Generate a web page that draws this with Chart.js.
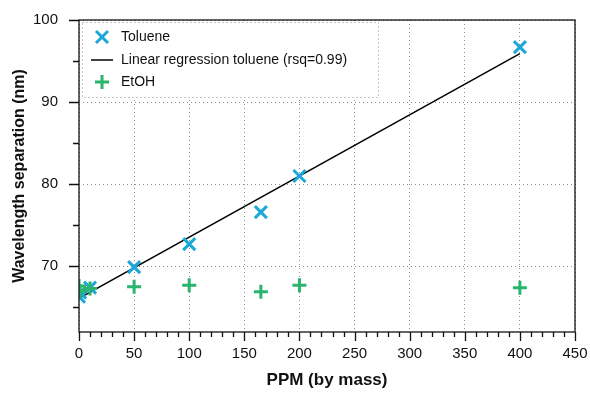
<!DOCTYPE html>
<html>
<head>
<meta charset="utf-8">
<script src="https://cdn.jsdelivr.net/npm/chart.js@4.4.1/dist/chart.umd.min.js"></script>
<style>
  html, body { margin: 0; padding: 0; background: #fff; }
  #wrap { width: 590px; height: 393px; }
</style>
</head>
<body>
<div id="wrap"><canvas id="sepChart" width="590" height="393"></canvas></div>
<script>
// data
const toluenePpm = [0, 1, 10, 50, 100, 165, 200, 400];
const tolueneNm = [66.3, 66.8, 67.4, 69.9, 72.7, 76.6, 81.0, 96.7];
const etohPpm = [0, 1, 10, 50, 100, 165, 200, 400];
const etohNm = [67.6, 67.0, 67.3, 67.5, 67.7, 66.9, 67.7, 67.4];
const fitPpm = [0, 400];
const fitNm = [66.1, 95.9];
const legendLabels = ["Toluene", "Linear regression toluene (rsq=0.99)", "EtOH"];

const FONT = "'Liberation Sans', Arial, Helvetica, sans-serif";
const BLUE = "#1ba8d6";
const GREEN = "#2ab46c";
const GRID = "#8c8c8c";

const toPoints = (xs, ys) => xs.map((x, i) => ({ x: x, y: ys[i] }));

// ticks outside the frame, major + minor, and the frame box
const frameTicks = {
  id: "frameTicks",
  afterDraw(chart) {
    const ctx = chart.ctx;
    const a = chart.chartArea;
    const xs = chart.scales.x;
    const ys = chart.scales.y;
    ctx.save();
    ctx.strokeStyle = "#111";
    ctx.lineWidth = 1.3;
    ctx.beginPath();
    xs.ticks.forEach((t) => {
      const px = Math.round(xs.getPixelForValue(t.value)) + 0.5;
      const len = t.value % 50 === 0 ? 9 : 5;
      ctx.moveTo(px, a.bottom);
      ctx.lineTo(px, a.bottom + len);
    });
    ys.ticks.forEach((t) => {
      if (t.value % 5 !== 0) return;
      const py = Math.round(ys.getPixelForValue(t.value)) + 0.5;
      const len = t.value % 10 === 0 ? 10 : 6;
      ctx.moveTo(a.left, py);
      ctx.lineTo(a.left - len, py);
    });
    ctx.stroke();
    ctx.strokeRect(a.left, a.top, a.right - a.left, a.bottom - a.top);
    ctx.restore();
  },
};

// legend box in the top-left corner of the plot
const cornerLegend = {
  id: "cornerLegend",
  afterDatasetsDraw(chart) {
    const ctx = chart.ctx;
    const a = chart.chartArea;
    const bx = a.left + 3, by = a.top + 2, bw = 296, bh = 75;
    ctx.save();
    ctx.fillStyle = "#fff";
    ctx.fillRect(bx, by, bw, bh);
    ctx.strokeStyle = GRID;
    ctx.lineWidth = 1;
    ctx.setLineDash([1, 3]);
    ctx.strokeRect(bx + 0.5, by + 0.5, bw, bh);
    ctx.setLineDash([]);

    const mx = a.left + 23;
    const rows = [a.top + 17, a.top + 40, a.top + 62];
    ctx.lineWidth = 3;
    // toluene x
    ctx.strokeStyle = BLUE;
    ctx.beginPath();
    ctx.moveTo(mx - 6, rows[0] - 6); ctx.lineTo(mx + 6, rows[0] + 6);
    ctx.moveTo(mx + 6, rows[0] - 6); ctx.lineTo(mx - 6, rows[0] + 6);
    ctx.stroke();
    // regression line
    ctx.strokeStyle = "#000";
    ctx.lineWidth = 1.5;
    ctx.beginPath();
    ctx.moveTo(mx - 11, rows[1]); ctx.lineTo(mx + 11, rows[1]);
    ctx.stroke();
    // etoh +
    ctx.strokeStyle = GREEN;
    ctx.lineWidth = 3;
    ctx.beginPath();
    ctx.moveTo(mx - 7, rows[2]); ctx.lineTo(mx + 7, rows[2]);
    ctx.moveTo(mx, rows[2] - 7); ctx.lineTo(mx, rows[2] + 7);
    ctx.stroke();

    ctx.fillStyle = "#111";
    ctx.font = "14px " + FONT;
    ctx.textBaseline = "middle";
    legendLabels.forEach((lbl, i) => ctx.fillText(lbl, a.left + 42, rows[i]));
    ctx.restore();
  },
};

new Chart(document.getElementById("sepChart").getContext("2d"), {
  type: "scatter",
  data: {
    datasets: [
      {
        label: "EtOH",
        data: toPoints(etohPpm, etohNm),
        pointStyle: "cross",
        pointRadius: 7,
        borderWidth: 3,
        borderColor: GREEN,
        backgroundColor: GREEN,
      },
      {
        label: "Toluene",
        data: toPoints(toluenePpm, tolueneNm),
        pointStyle: "crossRot",
        pointRadius: 8.5,
        borderWidth: 3,
        borderColor: BLUE,
        backgroundColor: BLUE,
      },
      {
        label: "Linear regression toluene (rsq=0.99)",
        data: toPoints(fitPpm, fitNm),
        showLine: true,
        borderColor: "#000",
        borderWidth: 1.5,
        pointRadius: 0,
      },
    ],
  },
  options: {
    responsive: false,
    animation: false,
    events: [],
    layout: { padding: { top: 20, right: 15, left: 0, bottom: 0 } },
    plugins: {
      legend: { display: false },
      tooltip: { enabled: false },
    },
    scales: {
      x: {
        type: "linear",
        min: 0,
        max: 450,
        afterFit: (s) => { s.height = 61; },
        border: { display: false, dash: [1, 3] },
        grid: {
          drawTicks: true,
          tickLength: 13,
          tickColor: "transparent",
          lineWidth: 1,
          color: (c) => (c.tick && c.tick.value % 50 === 0 ? GRID : "transparent"),
        },
        ticks: {
          stepSize: 10,
          autoSkip: false,
          maxRotation: 0,
          padding: 0,
          color: "#111",
          font: { family: FONT, size: 15 },
          callback: (v) => (v % 50 === 0 ? v : ""),
        },
        title: {
          display: true,
          text: "PPM (by mass)",
          color: "#111",
          font: { family: FONT, size: 17, weight: "bold" },
          padding: { top: 0, bottom: 2 },
        },
      },
      y: {
        min: 62,
        max: 100,
        afterFit: (s) => { s.width = 79; },
        border: { display: false, dash: [1, 3] },
        grid: {
          drawTicks: true,
          tickLength: 21,
          tickColor: "transparent",
          lineWidth: 1,
          color: (c) => (c.tick && c.tick.value % 10 === 0 ? GRID : "transparent"),
        },
        ticks: {
          stepSize: 5,
          autoSkip: false,
          padding: 0,
          color: "#111",
          font: { family: FONT, size: 15 },
          callback: (v) => (v % 10 === 0 ? v : ""),
        },
        title: {
          display: true,
          text: "Wavelength separation (nm)",
          color: "#111",
          font: { family: FONT, size: 16, weight: "bold" },
          padding: { top: 10, bottom: 0 },
        },
      },
    },
  },
  plugins: [frameTicks, cornerLegend],
});
</script>
</body>
</html>
